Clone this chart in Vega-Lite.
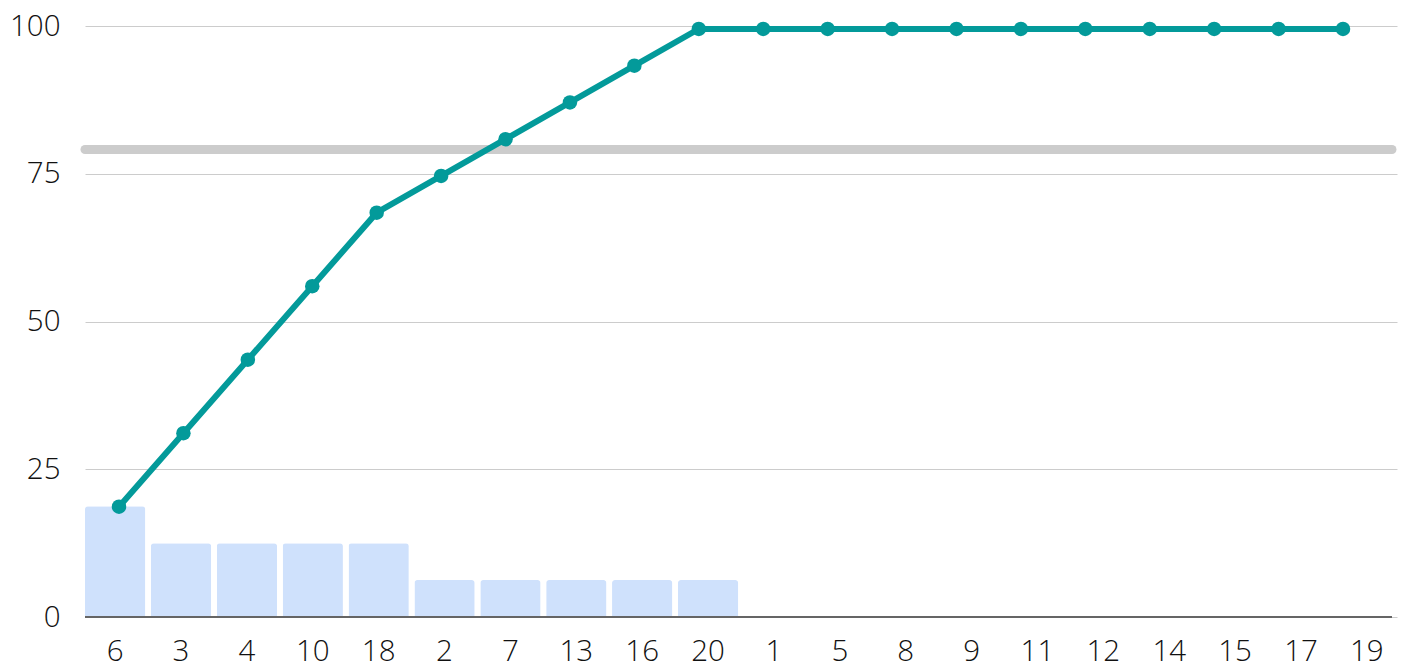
{
  "$schema": "https://vega.github.io/schema/vega-lite/v6.json",
  "autosize": "none",
  "width": 1307,
  "height": 591,
  "padding": {"left": 85, "top": 26, "right": 11, "bottom": 49},
  "background": "white",
  "config": {
    "view": {"stroke": null},
    "font": "Open Sans",
    "axis": {"labelFont": "Open Sans", "labelFontWeight": 300, "labelFontSize": 29.5, "labelColor": "#111111"}
  },
  "datasets": {
    "pareto": [
      {"cat": "6", "pct": 18.75, "cum": 18.75},
      {"cat": "3", "pct": 12.5, "cum": 31.25},
      {"cat": "4", "pct": 12.5, "cum": 43.75},
      {"cat": "10", "pct": 12.5, "cum": 56.25},
      {"cat": "18", "pct": 12.5, "cum": 68.75},
      {"cat": "2", "pct": 6.25, "cum": 75},
      {"cat": "7", "pct": 6.25, "cum": 81.25},
      {"cat": "13", "pct": 6.25, "cum": 87.5},
      {"cat": "16", "pct": 6.25, "cum": 93.75},
      {"cat": "20", "pct": 6.25, "cum": 100},
      {"cat": "1", "pct": 0, "cum": 100},
      {"cat": "5", "pct": 0, "cum": 100},
      {"cat": "8", "pct": 0, "cum": 100},
      {"cat": "9", "pct": 0, "cum": 100},
      {"cat": "11", "pct": 0, "cum": 100},
      {"cat": "12", "pct": 0, "cum": 100},
      {"cat": "14", "pct": 0, "cum": 100},
      {"cat": "15", "pct": 0, "cum": 100},
      {"cat": "17", "pct": 0, "cum": 100},
      {"cat": "19", "pct": 0, "cum": 100}
    ],
    "target": [{"value": 79.1}]
  },
  "layer": [
    {
      "data": {"name": "pareto"},
      "mark": {"type": "bar", "color": "#cfe1fc", "cornerRadiusTopLeft": 3, "cornerRadiusTopRight": 3},
      "encoding": {
        "x": {
          "field": "cat", "type": "nominal", "sort": null,
          "scale": {"type": "band", "range": [0, 1312], "paddingInner": 0.085, "paddingOuter": 0},
          "axis": {"title": null, "labelAngle": 0, "ticks": false, "domain": false, "labelPadding": 20, "grid": false}
        },
        "y": {
          "field": "pct", "type": "quantitative",
          "scale": {"domain": [0, 100], "nice": false},
          "axis": {"title": null, "values": [0, 25, 50, 75, 100], "ticks": false, "domain": false, "labelPadding": 25,
                   "grid": true, "gridColor": "#cccccc", "gridWidth": 1}
        }
      }
    },
    {
      "data": {"name": "pareto"},
      "mark": {"type": "rule", "color": "#666666", "strokeWidth": 1.5},
      "encoding": {
        "y": {"datum": 0, "type": "quantitative", "scale": {"domain": [0, 100], "nice": false}, "axis": null}
      }
    },
    {
      "data": {"name": "target"},
      "mark": {"type": "rule", "color": "#cccccc", "strokeWidth": 9, "strokeCap": "round"},
      "encoding": {
        "y": {"field": "value", "type": "quantitative", "scale": {"domain": [0, 100], "nice": false}, "axis": null}
      }
    },
    {
      "data": {"name": "pareto"},
      "encoding": {
        "x": {"field": "cat", "type": "nominal", "sort": null, "scale": {"type": "point", "range": [34, 1258], "padding": 0}, "axis": null},
        "y": {"field": "cum", "type": "quantitative", "scale": {"domain": [0, 100.5], "nice": false}, "axis": null}
      },
      "layer": [
        {"mark": {"type": "line", "color": "#039a9a", "strokeWidth": 6}},
        {"mark": {"type": "point", "filled": true, "color": "#039a9a", "opacity": 1, "size": 210}}
      ]
    }
  ],
  "resolve": {"scale": {"x": "independent", "y": "independent"}}
}
